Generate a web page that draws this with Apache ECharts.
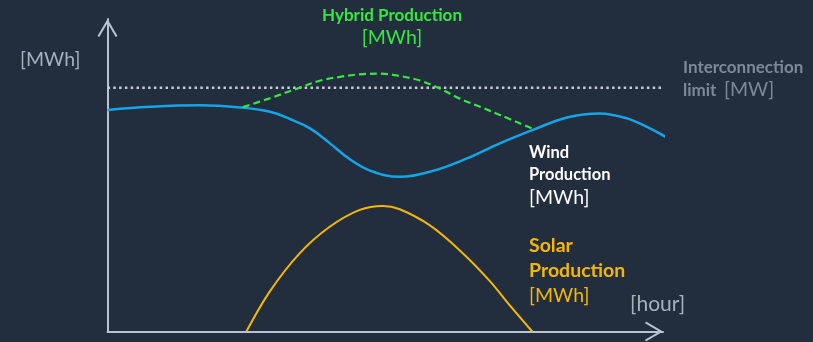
<!DOCTYPE html>
<html>
<head>
<meta charset="utf-8">
<title>Hybrid Production</title>
<script src="https://cdn.jsdelivr.net/npm/echarts@6/dist/echarts.min.js"></script>
<style>
  html, body { margin: 0; padding: 0; background: #222d3e; }
  #chart { width: 813px; height: 342px; }
</style>
</head>
<body>
<div id="chart"></div>
<script>
// Wind production over the day [hour, MWh]
const windHours = [0, 1.84, 4.0, 5.72, 7.02, 7.88, 8.75, 9.61, 10.47, 11.34, 12.64, 14.06, 15.53, 16.95, 18.38, 19.85, 21.27, 22.44, 23.43, 24.3];
const windMWh   = [70.9, 71.9, 72.4, 71.7, 70.3, 68.0, 65.0, 60.2, 55.1, 51.5, 49.5, 51.4, 55.4, 60.2, 64.5, 68.5, 69.8, 68.2, 65.0, 61.5];

// Solar production over the day
const solarHours = [6.0, 7.0, 8.3, 9.6, 10.9, 11.9, 12.6, 13.9, 15.2, 16.5, 17.4, 18.35];
const solarMWh   = [0, 12.7, 25.0, 33.5, 38.9, 40.2, 39.2, 34.1, 26.1, 16.3, 8.2, 0];

// Hybrid (wind + solar) production while the sun is up
const hybridHours = [5.85, 7.0, 8.3, 9.2, 10.05, 10.9, 11.8, 12.6, 13.5, 14.4, 15.2, 16.1, 16.95, 18.4];
const hybridMWh   = [71.8, 74.6, 78.0, 80.3, 81.5, 82.3, 82.5, 81.8, 80.3, 77.6, 74.6, 71.9, 69.3, 64.8];

// Grid interconnection limit
const limitHours = [0, 24];
const limitMW = 78;

const zip = (xs, ys) => xs.map((x, i) => [x, ys[i]]);

const axisColor = '#b8c2d2';
const chevron = 'path://M10,0 L20,17 L18.2,18 L10,3.9 L1.8,18 L0,17 Z';

const axisCommon = {
  type: 'value',
  splitLine: { show: false },
  axisTick: { show: false },
  axisLabel: { show: false },
  axisLine: {
    show: true,
    symbol: ['none', chevron],
    symbolSize: [20, 18],
    symbolOffset: [0, -9],
    lineStyle: { color: axisColor, width: 2 }
  }
};

const FONT = 'Lato, "Open Sans", sans-serif';
const txt = (text, x, y, size, color, bold, align) => ({
  type: 'text',
  x: x, y: y,
  silent: true,
  style: {
    text: text,
    fill: color,
    font: (bold ? 'bold ' : '') + size + 'px ' + FONT,
    align: align || 'left',
    verticalAlign: 'middle'
  }
});

const green = '#35e83f';
const yellow = '#f5b800';
const gray = '#a8b0bc';
const muted = '#7e8995';

const chart = echarts.init(document.getElementById('chart'), null, { renderer: 'canvas' });
chart.setOption({
  backgroundColor: '#222d3e',
  animation: false,
  grid: { left: 107.5, right: 150, top: 19, bottom: 10.5 },
  xAxis: Object.assign({}, axisCommon, { min: 0, max: 24 }),
  yAxis: Object.assign({}, axisCommon, { min: 0, max: 100 }),
  series: [
    {
      name: 'Interconnection limit',
      type: 'line',
      data: zip(limitHours, [limitMW, limitMW]),
      symbol: 'none',
      lineStyle: { color: '#c6ccd6', width: 2.5, type: [2.5, 3.3], cap: 'butt' },
      z: 2
    },
    {
      name: 'Wind Production',
      type: 'line',
      data: zip(windHours, windMWh),
      smooth: 0.4,
      symbol: 'none',
      clip: false,
      lineStyle: { color: '#12a6e6', width: 2.5 },
      z: 3
    },
    {
      name: 'Hybrid Production',
      type: 'line',
      data: zip(hybridHours, hybridMWh),
      smooth: 0.35,
      symbol: 'none',
      lineStyle: { color: green, width: 2.2, type: [7, 4] },
      z: 4
    },
    {
      name: 'Solar Production',
      type: 'line',
      data: zip(solarHours, solarMWh),
      smooth: 0.35,
      symbol: 'none',
      lineStyle: { color: yellow, width: 2 },
      z: 3
    }
  ],
  graphic: [
    txt('[MWh]', 20, 60, 19.5, gray, false),
    txt('Hybrid Production', 392, 15.5, 17, green, true, 'center'),
    txt('[MWh]', 392, 37.5, 19.5, green, false, 'center'),
    txt('Interconnection', 683, 68, 17, muted, true),
    txt('limit', 683, 91, 17, muted, true),
    txt('[MW]', 724, 90, 19.5, muted, false),
    txt('Wind', 529, 152.5, 16.5, '#ffffff', true),
    txt('Production', 529, 174.5, 16.5, '#ffffff', true),
    txt('[MWh]', 529, 197.5, 19.5, '#ffffff', false),
    txt('Solar', 529, 245.5, 19.5, yellow, true),
    txt('Production', 529, 271, 19.5, yellow, true),
    txt('[MWh]', 529, 296, 19.5, yellow, false),
    txt('[hour]', 630, 304.5, 21, gray, false)
  ]
});
</script>
</body>
</html>
